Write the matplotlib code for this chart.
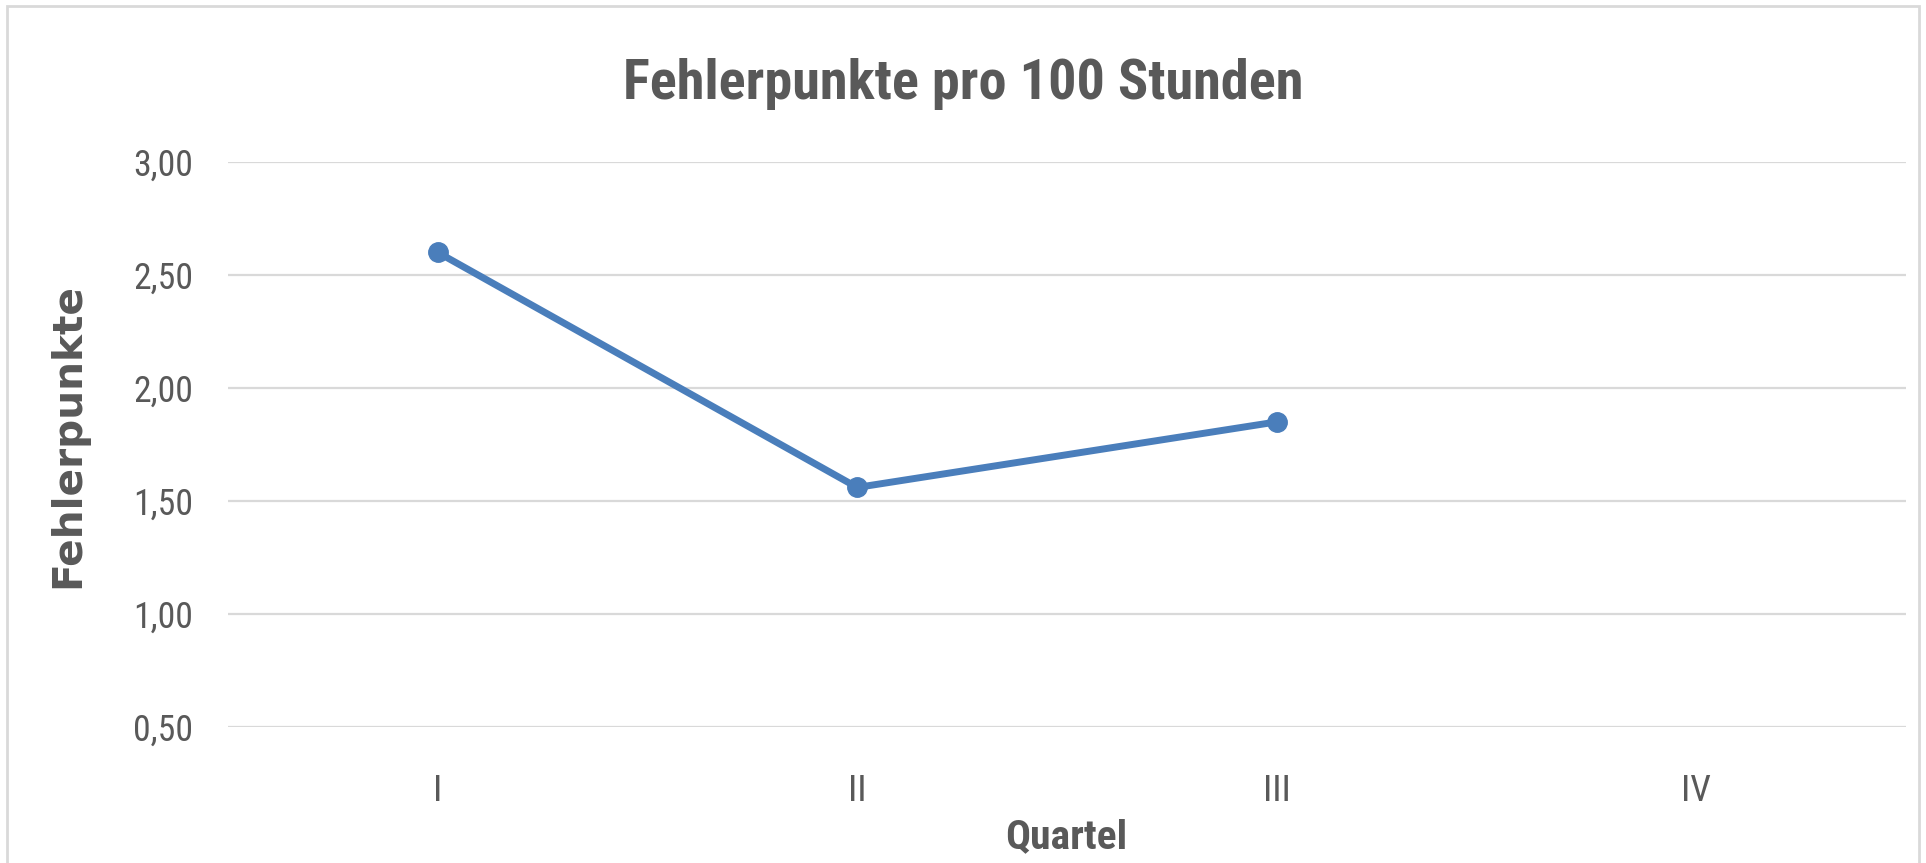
import matplotlib
matplotlib.use("Agg")
import matplotlib.pyplot as plt
from matplotlib import font_manager
from matplotlib.patches import Rectangle
import numpy as np

# ---- data ----
quartale = ["I", "II", "III", "IV"]
fehlerpunkte = [2.60, 1.56, 1.85, np.nan]
y_ticks = [0.5, 1.0, 1.5, 2.0, 2.5, 3.0]
y_tick_labels = ["0,50", "1,00", "1,50", "2,00", "2,50", "3,00"]
title = "Fehlerpunkte pro 100 Stunden"
x_label = "Quartel"
y_label = "Fehlerpunkte"

names = {f.name for f in font_manager.fontManager.ttflist}
narrow = "DejaVu Sans"
for cand in ["Liberation Sans Narrow", "Roboto Condensed", "Archivo Narrow",
             "Asap Condensed", "Barlow Semi Condensed"]:
    if cand in names:
        narrow = cand
        break

TEXT = "#595959"
W, H = 1926, 863
fig = plt.figure(figsize=(W / 100, H / 100), dpi=100)
fig.patch.set_facecolor("white")

# chart border
fig.add_artist(Rectangle((7 / W, -0.05), (1919 - 7) / W, 1.05 - 6 / H,
                         transform=fig.transFigure, fill=False,
                         edgecolor="#D9D9D9", linewidth=2.0))

ax = fig.add_axes([228 / W, 1 - 727 / H, (1906 - 228) / W, (727 - 162) / H])
x = np.arange(len(quartale))
ax.plot(x, fehlerpunkte, color="#4A7EBB", linewidth=5, marker="o",
        markersize=14, solid_capstyle="round", zorder=3)

ax.set_xlim(-0.5, len(quartale) - 0.5)
ax.set_ylim(0.5, 3.0)
ax.set_yticks(y_ticks)
ax.set_yticklabels(y_tick_labels)
ax.set_xticks(x)
ax.set_xticklabels(quartale)
ax.grid(axis="y", color="#D9D9D9", linewidth=1.6)
ax.set_axisbelow(True)
for s in ax.spines.values():
    s.set_visible(False)
ax.tick_params(axis="both", length=0)
ax.tick_params(axis="y", pad=25, labelsize=29, labelcolor=TEXT)
ax.tick_params(axis="x", pad=33, labelsize=33, labelcolor=TEXT)
for lab in ax.get_yticklabels() + ax.get_xticklabels():
    lab.set_fontfamily(narrow)

t_title = fig.text(963 / W, 1 - 99 / H, title, ha="center", va="baseline",
                   fontsize=44, fontweight="bold", color=TEXT, fontfamily=narrow)
t_x = fig.text(1066 / W, 1 - 848 / H, x_label, ha="center", va="baseline",
               fontsize=32, fontweight="bold", color=TEXT, fontfamily=narrow)
t_y = fig.text(68 / W, 1 - 436 / H, y_label, ha="center", va="center",
               rotation=90, fontsize=28, fontweight="bold", color=TEXT,
               fontfamily="DejaVu Sans")

# fit font sizes to the widths measured in the reference (pixels)
renderer = fig.canvas.get_renderer()


def fit(t, target, vertical=False, lo=10, hi=60):
    bb = t.get_window_extent(renderer)
    w = bb.height if vertical else bb.width
    if w > 0:
        t.set_fontsize(float(np.clip(t.get_fontsize() * target / w, lo, hi)))


fit(t_title, 681)
fit(t_x, 122)
fit(t_y, 305, vertical=True)
fig.canvas.draw()
ylab = ax.get_yticklabels()[4]
bb = ylab.get_window_extent(renderer)
ysize = float(np.clip(29 * 60 / bb.width, 10, 40)) if bb.width > 0 else 29
xlab = ax.get_xticklabels()[3]
bb = xlab.get_window_extent(renderer)
xsize = float(np.clip(33 * 30 / bb.width, 10, 44)) if bb.width > 0 else 33
ax.tick_params(axis="y", labelsize=ysize)
ax.tick_params(axis="x", labelsize=xsize)

fig.savefig("out.png", dpi=100, facecolor="white")
